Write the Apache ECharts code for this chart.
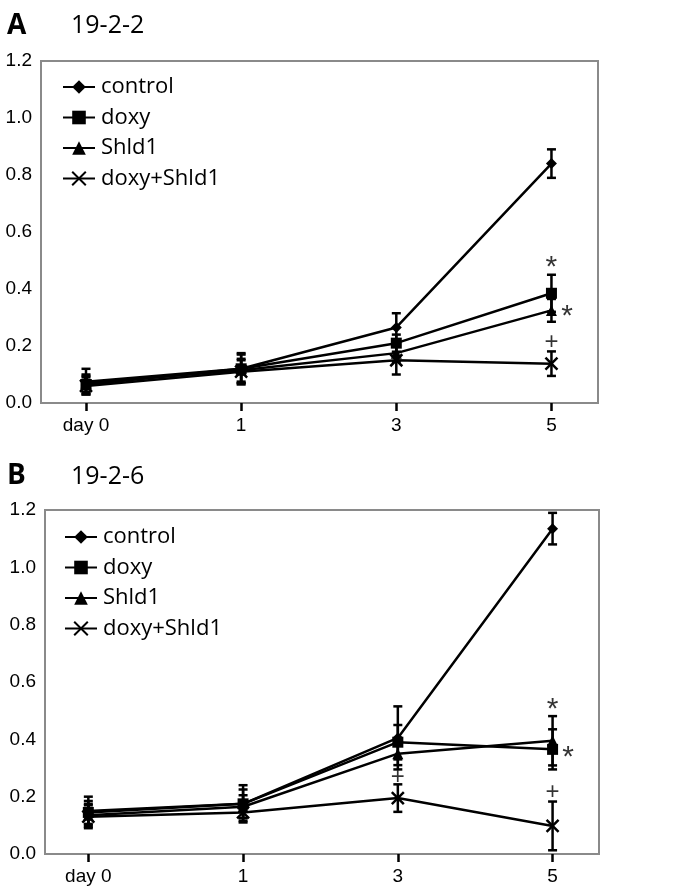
<!DOCTYPE html>
<html>
<head>
<meta charset="utf-8">
<script src="https://cdn.jsdelivr.net/npm/echarts@6/dist/echarts.min.js"></script>
<style>
html,body{margin:0;padding:0;background:#fff;}
#chart{width:685px;height:889px;}
</style>
</head>
<body>
<div id="chart"></div>
<script>
// ---- data ----
const categories = ['day 0', '1', '3', '5'];
const seriesNames = ['control', 'doxy', 'Shld1', 'doxy+Shld1'];
const yTicks = [0, 0.2, 0.4, 0.6, 0.8, 1.0, 1.2];

// Panel A (19-2-2)
const A_control = [0.075, 0.12, 0.265, 0.84];
const A_doxy = [0.065, 0.12, 0.21, 0.385];
const A_shld1 = [0.07, 0.115, 0.175, 0.325];
const A_doxyShld1 = [0.06, 0.11, 0.15, 0.138];
const A_control_err = [0.045, 0.055, 0.05, 0.05];
const A_doxy_err = [0.03, 0.05, 0.03, 0.065];
const A_shld1_err = [0.03, 0.04, 0.03, 0.04];
const A_doxyShld1_err = [0.03, 0.04, 0.05, 0.043];
// annotations: [category index, value, mark]
const A_marks = [[3, 0.475, '*'], [3.1, 0.302, '*'], [3, 0.214, '+']];

// Panel B (19-2-6)
const B_control = [0.15, 0.175, 0.405, 1.135];
const B_doxy = [0.145, 0.175, 0.39, 0.365];
const B_shld1 = [0.135, 0.165, 0.35, 0.395];
const B_doxyShld1 = [0.13, 0.145, 0.195, 0.098];
const B_control_err = [0.05, 0.065, 0.11, 0.055];
const B_doxy_err = [0.04, 0.05, 0.06, 0.07];
const B_shld1_err = [0.04, 0.04, 0.04, 0.086];
const B_doxyShld1_err = [0.04, 0.03, 0.048, 0.085];
const B_marks = [[3, 0.502, '*'], [3.1, 0.336, '*'], [2, 0.268, '+'], [3, 0.216, '+']];

// ---- styling ----
const FONT = "'Open Sans', 'DejaVu Sans', sans-serif";
const AXFONT = "'Liberation Sans', Arial, sans-serif";
const BLACK = '#000';
const crossPath = 'path://M0,0L10,10M10,0L0,10';
const symbols = ['diamond', 'rect', 'triangle', crossPath];
const symbolSizes = [11, 11, 11, 12];

const chart = echarts.init(document.getElementById('chart'));

function xAxisDef(gridIndex, min, max) {
  const idx = categories.map((c, i) => i);
  return {
    type: 'value', gridIndex, min, max,
    axisLine: { show: false },
    splitLine: { show: false },
    axisTick: { show: true, customValues: idx, length: 8, inside: false,
      lineStyle: { color: BLACK, width: 2.5 } },
    axisLabel: { customValues: idx, margin: 13, color: BLACK, fontSize: 19,
      fontFamily: AXFONT, formatter: v => categories[Math.round(v)] }
  };
}
function yAxisDef(gridIndex) {
  return {
    type: 'value', gridIndex, min: yTicks[0], max: yTicks[yTicks.length - 1], interval: 0.2,
    axisLine: { show: false }, axisTick: { show: false }, splitLine: { show: false },
    axisLabel: { margin: 9, color: BLACK, fontSize: 19, fontFamily: AXFONT,
      formatter: v => v.toFixed(1) }
  };
}

function lineSeries(name, vals, k, gi) {
  const isCross = k === 3;
  return {
    type: 'line', name, xAxisIndex: gi, yAxisIndex: gi,
    data: vals.map((v, i) => [i, v]),
    symbol: symbols[k], symbolSize: symbolSizes[k],
    lineStyle: { color: BLACK, width: 2.5 },
    itemStyle: isCross ? { color: BLACK, borderColor: BLACK, borderWidth: 2.5 } : { color: BLACK },
    z: 3, animation: false
  };
}
function errSeries(vals, errs, gi) {
  return {
    type: 'custom', xAxisIndex: gi, yAxisIndex: gi, silent: true, z: 2,
    data: vals.map((v, i) => [i, v - errs[i], v + errs[i]]),
    renderItem: function (params, api) {
      const x = api.value(0);
      const top = api.coord([x, api.value(2)]);
      const bot = api.coord([x, api.value(1)]);
      const w = 4.5;
      const st = { stroke: BLACK, lineWidth: 2.5 };
      return { type: 'group', children: [
        { type: 'line', shape: { x1: top[0], y1: top[1], x2: bot[0], y2: bot[1] }, style: st },
        { type: 'line', shape: { x1: top[0] - w, y1: top[1], x2: top[0] + w, y2: top[1] }, style: st },
        { type: 'line', shape: { x1: bot[0] - w, y1: bot[1], x2: bot[0] + w, y2: bot[1] }, style: st }
      ]};
    },
    animation: false
  };
}
function markSeries(marks, gi) {
  return {
    type: 'scatter', xAxisIndex: gi, yAxisIndex: gi, silent: true, z: 4,
    data: marks.map(m => ({ value: [m[0], m[1]], mark: m[2],
      label: { fontSize: m[2] === '*' ? 30 : 24 } })),
    symbolSize: 1, itemStyle: { color: 'rgba(0,0,0,0)' },
    label: { show: true, position: 'inside', color: BLACK, fontSize: 24,
      fontFamily: AXFONT, fontWeight: 'normal', textBorderWidth: 0,
      formatter: p => p.data.mark },
    animation: false
  };
}

const panels = [
  { vals: [A_control, A_doxy, A_shld1, A_doxyShld1], errs: [A_control_err, A_doxy_err, A_shld1_err, A_doxyShld1_err], marks: A_marks },
  { vals: [B_control, B_doxy, B_shld1, B_doxyShld1], errs: [B_control_err, B_doxy_err, B_shld1_err, B_doxyShld1_err], marks: B_marks }
];

const series = [];
panels.forEach((p, gi) => {
  p.vals.forEach((v, k) => series.push(errSeries(v, p.errs[k], gi)));
  p.vals.forEach((v, k) => series.push(lineSeries(seriesNames[k], v, k, gi)));
  series.push(markSeries(p.marks, gi));
});

function legendDef(left, top) {
  return {
    orient: 'vertical', left, top, selectedMode: false,
    data: seriesNames, itemWidth: 32, itemHeight: 17, itemGap: 8.5,
    textStyle: { color: BLACK, fontSize: 22, fontFamily: FONT, lineHeight: 22, padding: [0, 0, 0, 1] }
  };
}

chart.setOption({
  animation: false,
  backgroundColor: '#fff',
  title: [
    { text: 'A', left: 2, top: 7, textStyle: { fontSize: 28, fontWeight: 'bold', color: BLACK, fontFamily: FONT } },
    { text: '19-2-2', left: 66, top: 8, textStyle: { fontSize: 25, fontWeight: 'normal', color: BLACK, fontFamily: FONT } },
    { text: 'B', left: 2, top: 457, textStyle: { fontSize: 28, fontWeight: 'bold', color: BLACK, fontFamily: FONT } },
    { text: '19-2-6', left: 66, top: 459, textStyle: { fontSize: 25, fontWeight: 'normal', color: BLACK, fontFamily: FONT } }
  ],
  legend: [legendDef(57, 71), legendDef(59, 521)],
  grid: [
    { left: 41, top: 61, width: 557, height: 342, show: true, borderColor: '#8a8a8a', borderWidth: 2, backgroundColor: '#fff' },
    { left: 45, top: 510, width: 554, height: 344, show: true, borderColor: '#8a8a8a', borderWidth: 2, backgroundColor: '#fff' }
  ],
  xAxis: [xAxisDef(0, -0.29, 3.3), xAxisDef(1, -0.28, 3.3)],
  yAxis: [yAxisDef(0), yAxisDef(1)],
  series
});
</script>
</body>
</html>
